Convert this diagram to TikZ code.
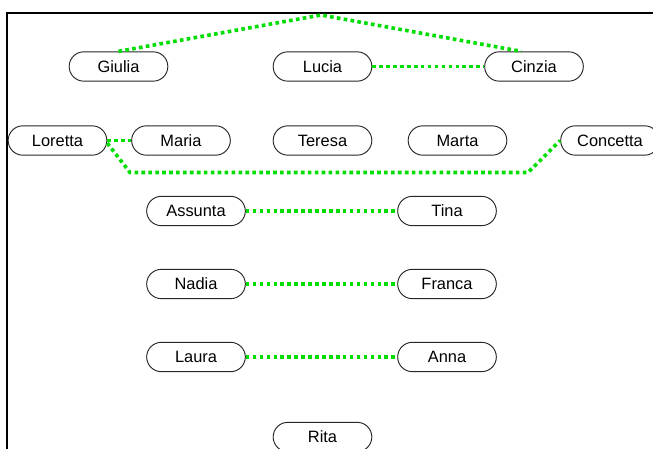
\documentclass[tikz,border=0pt]{standalone}
\usepackage{fontspec}
\setmainfont{Liberation Sans}
\usetikzlibrary{calc}
\definecolor{linkgreen}{RGB}{0,221,0}
\begin{document}
\begin{tikzpicture}[x=0.75pt,y=-0.75pt,
  person/.style={draw=black!85,line width=0.7pt,rounded corners=11pt,
    minimum width=74pt,minimum height=22pt,inner sep=0pt,
    font=\fontsize{12.3pt}{14pt}\selectfont},
  link/.style={linkgreen,line width=2.7pt,dash pattern=on 2.7pt off 2.5pt},
  frame/.style={black,line width=1.6pt}]
\useasboundingbox (0,0) rectangle (653,449);
% frame
\coordinate (ftl) at (7,13);
\coordinate (ftr) at (660,13);
\coordinate (fbl) at (7,460);
\draw[frame] (ftr) -- (ftl) -- (fbl);
% people
\node[person] (giulia)   at (118.5,66.5) {Giulia};
\node[person] (lucia)    at (322.5,66.5) {Lucia};
\node[person] (cinzia)   at (534,66.5)   {Cinzia};
\node[person] (loretta)  at (57.5,140.5) {Loretta};
\node[person] (maria)    at (181,140.5)  {Maria};
\node[person] (teresa)   at (322.5,140.5){Teresa};
\node[person] (marta)    at (457.5,140.5){Marta};
\node[person] (concetta) at (610,140.5)  {Concetta};
\node[person] (assunta)  at (196,211)    {Assunta};
\node[person] (tina)     at (447,211)    {Tina};
\node[person] (nadia)    at (196,284)    {Nadia};
\node[person] (franca)   at (447,284)    {Franca};
\node[person] (laura)    at (196,357)    {Laura};
\node[person] (anna)     at (447,357)    {Anna};
\node[person] (rita)     at (322.5,437)  {Rita};
% bend points
\coordinate (apex) at (321,15);
\coordinate (b1) at (130,172.5);
\coordinate (b2) at (528,172.5);
% links
\draw[link] (giulia.north) -- (apex) -- ([xshift=-9.5pt]cinzia.north);
\draw[link] (lucia.east) -- (cinzia.west);
\draw[link] (loretta.east) -- (maria.west);
\draw[link] ([yshift=-2pt]loretta.east) -- (b1) -- (b2) -- (concetta.west);
\draw[link] (assunta.east) -- (tina.west);
\draw[link] (nadia.east) -- (franca.west);
\draw[link] (laura.east) -- (anna.west);
\end{tikzpicture}
\end{document}
